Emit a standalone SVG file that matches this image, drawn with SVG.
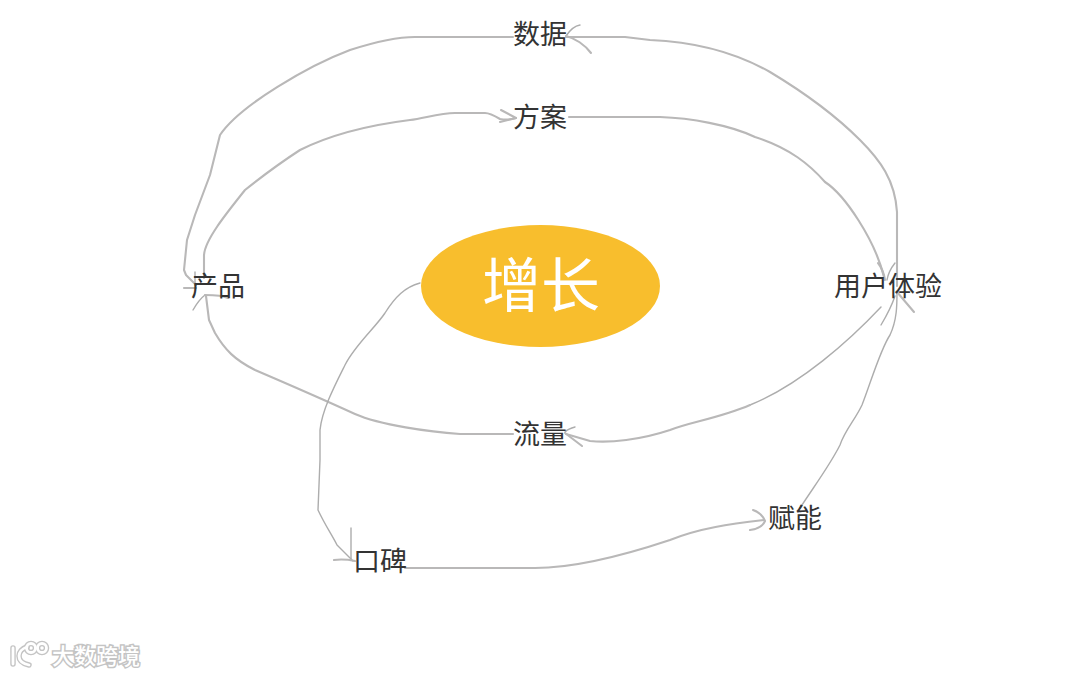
<svg xmlns="http://www.w3.org/2000/svg" width="1080" height="675" viewBox="0 0 1080 675">
<style>
text{font-family:"Noto Sans CJK SC","Noto Sans",sans-serif}
.n{font-size:27px;fill:#333;text-anchor:middle}
.c path{fill:none;stroke:#b9b8b8;stroke-width:2.1;stroke-linecap:round;stroke-linejoin:round}
.c path.t{stroke-width:1.4;stroke:#adadad}
.wm{font-size:22px;fill:#fff;stroke:#c4c4c4;stroke-width:3;paint-order:stroke;font-weight:500}
.lg{fill:none;stroke:#c4c4c4;stroke-width:5.500;stroke-linecap:round}
.lw{fill:none;stroke:#fff;stroke-width:2.800;stroke-linecap:round}
</style>
<rect width="1080" height="675" fill="#fff"/>
<g id="connectors" class="c">
<path d="M897 286V212C895 180 880 160 860 140C830 110 800 90 770 72C740 55 700 42 650 40L625 37H566"/>
<path class="t" d="M566 36C570 30 574 26 580 25"/>
<path d="M566 36C575 38 585 45 591 53"/>
<path d="M513 37H415C395 37 375 42 350 50C310 65 240 105 220 135L210 175L195 215L187 240L184 270L186 275L196 285"/>
<path d="M184 288H196"/>
<path class="t" d="M195 272V285"/>
<path d="M569 117H660C690 118 730 125 755 137C790 148 810 165 825 182C845 195 875 240 884 277"/>
<path d="M878 263C882 268 884 274 885 280"/>
<path class="t" d="M895 263C891 268 888 274 887 280"/>
<path d="M516 118C510 120 505 120 500 119C495 116 490 113 485 113H455C440 113 425 118 410 120C370 125 330 135 300 150C280 163 260 178 245 190C225 215 205 240 204 255V278"/>
<path d="M501 110L516 118L500 122"/>
<path class="t" d="M881 307C850 340 800 385 750 405"/>
<path d="M750 405C720 418 690 422 670 430C640 440 610 443 590 441L566 434"/>
<path d="M565 433L582 446"/>
<path class="t" d="M565 432C568 429 571 428 575 427"/>
<path d="M513 434H460C430 432 380 425 355 414C320 398 290 385 255 370C235 360 225 350 215 333L209 320L206 296"/>
<path class="t" d="M193 310C197 303 201 298 205 295"/>
<path d="M205 295C213 295 222 295 228 298"/>
<path class="t" d="M420 283C405 287 395 297 385 313C375 328 355 345 345 365C335 385 322 410 320 430V460L318 510C325 525 332 535 337 545L353 561"/>
<path class="t" d="M351 528V560"/>
<path d="M334 560C342 559 350 560 355 561"/>
<path d="M405 568H535C580 568 640 550 670 540C700 528 730 524 764 520"/>
<path d="M753 510C759 512 763 516 765 521C763 526 757 529 750 530"/>
<path class="t" d="M800 508C815 485 830 465 840 445C845 430 855 420 862 405C870 385 880 350 890 335C897 320 897 305 897 292"/>
<path class="t" d="M881 325C887 315 892 305 895 296"/>
<path d="M897 292L914 312"/>
</g>
<g id="center"><ellipse cx="540.500" cy="286" rx="119.500" ry="61" fill="#f8be2d"/><text x="541" y="307" text-anchor="middle" font-size="59" fill="#fff">增长</text></g>
<g id="data"><text class="n" x="540" y="44">数据</text></g>
<g id="plan"><text class="n" x="540" y="127">方案</text></g>
<g id="product"><text class="n" x="218" y="296">产品</text></g>
<g id="ux"><text class="n" x="888" y="296">用户体验</text></g>
<g id="traffic"><text class="n" x="540" y="444">流量</text></g>
<g id="wom"><text class="n" x="380" y="571">口碑</text></g>
<g id="enable"><text class="n" x="795" y="528">赋能</text></g>
<g id="watermark">
<path class="lg" d="M13 648V664M27 647C17 650 15 662 29 665"/>
<circle class="lg" cx="31" cy="648" r="4.500"/><circle class="lg" cx="42" cy="648" r="4.500"/>
<path class="lw" d="M13 648V664M27 647C17 650 15 662 29 665"/>
<circle class="lw" cx="31" cy="648" r="4.500"/><circle class="lw" cx="42" cy="648" r="4.500"/>
<text class="wm" x="52" y="664">大数跨境</text>
</g>
</svg>
